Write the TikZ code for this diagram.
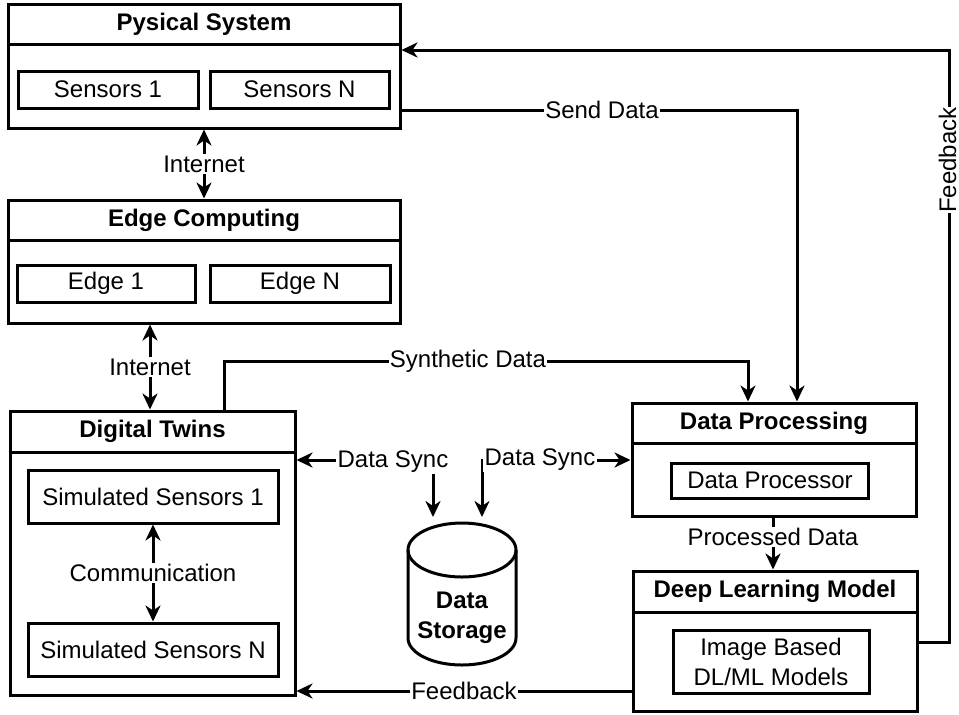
\documentclass[tikz,border=0pt]{standalone}
\usepackage{fontspec}
\setmainfont{Liberation Sans}
\usetikzlibrary{arrows.meta}

\tikzset{
  >={Stealth[length=8pt,width=7.5pt,inset=2.5pt]},
  panel/.style={draw, inner sep=0pt},
  unit/.style={draw, inner sep=0pt, align=center},
  title/.style={font=\fontsize{12}{15}\selectfont\bfseries},
  lbl/.style={fill=white, inner sep=0.6pt},
}

\begin{document}
\begin{tikzpicture}[x=0.5pt, y=-0.5pt, line width=1.5pt,
    font=\fontsize{12}{15}\selectfont]
    \useasboundingbox (0,0) rectangle (959,714);

    % physical system
    \node[panel, minimum width=196pt, minimum height=62pt] (phys) at (204,66) {};
    \draw (phys.west |- 0,44) -- (phys.east |- 0,44);
    \node[title] (physT) at (204,24) {Pysical System};
    \node[unit, minimum width=90pt, minimum height=18.5pt] (sens1) at (108,89.5) {Sensors 1};
    \node[unit, minimum width=89.5pt, minimum height=18.5pt] (sensN) at (299.5,89.5) {Sensors N};

    % edge computing
    \node[panel, minimum width=196pt, minimum height=61.5pt] (edge) at (204,261.5) {};
    \draw (edge.west |- 0,240) -- (edge.east |- 0,240);
    \node[title] (edgeT) at (204,220) {Edge Computing};
    \node[unit, minimum width=89pt, minimum height=18.5pt] (edge1) at (106,283.5) {Edge 1};
    \node[unit, minimum width=90pt, minimum height=18.5pt] (edgeN) at (300,283.5) {Edge N};

    % digital twins
    \node[panel, minimum width=142.5pt, minimum height=142pt] (dt) at (152.5,553) {};
    \draw (dt.west |- 0,452) -- (dt.east |- 0,452);
    \node[title] (dtT) at (152.5,431.5) {Digital Twins};
    \node[unit, minimum width=125pt, minimum height=26.5pt] (sim1) at (153,496.5) {Simulated Sensors 1};
    \node[unit, minimum width=125pt, minimum height=26.5pt] (simN) at (153,649.5) {Simulated Sensors N};

    % data processing
    \node[panel, minimum width=142pt, minimum height=56.5pt] (dp) at (774,459.5) {};
    \draw (dp.west |- 0,443) -- (dp.east |- 0,443);
    \node[title] (dpT) at (774,423) {Data Processing};
    \node[unit, minimum width=98.5pt, minimum height=17.5pt] (proc) at (770,480.5) {Data Processor};

    % deep learning model
    \node[panel, minimum width=142pt, minimum height=70pt] (dl) at (775,641) {};
    \draw (dl.west |- 0,612) -- (dl.east |- 0,612);
    \node[title] (dlT) at (775,591.5) {Deep Learning Model};
    \node[unit, minimum width=98pt, minimum height=31.5pt] (model) at (771,661.5) {Image Based\\DL/ML Models};

    % data storage
    \draw (462,550) ellipse [x radius=27pt, y radius=13.5pt];
    \draw (408,550) -- (408,638) arc[start angle=180, end angle=360, x radius=27pt, y radius=13.5pt] -- (516,550);
    \node[title, align=center] (storeT) at (462,618) {Data\\Storage};
    \coordinate (stA) at (433,517);
    \coordinate (stB) at (482,517);

    % links
    \draw[<->] (phys.south) -- (edge.north) node[lbl, midway] (net1) {Internet};
    \draw[<->] (edge.south -| 150,0) -- (dt.north -| 150,0) node[lbl, midway] (net2) {Internet};
    \draw[<->] (sim1.south) -- (simN.north) node[lbl, midway] (comm) {Communication};

    \draw[<->] (dt.east |- 0,460) -| (stA);
    \node[lbl] (sync1) at (393,462) {Data Sync};
    \draw[<->] (stB) |- (dp.west |- 0,460);
    \node[lbl] (sync2) at (540,460) {Data Sync};

    \draw[->] (phys.east |- 0,110) -| (dp.north -| 797,0);
    \node[lbl] (send) at (602,110) {Send Data};
    \draw[->] (dt.north -| 224,0) |- (748,361) -- (dp.north -| 748,0);
    \node[lbl] (synth) at (468,361) {Synthetic Data};
    \draw[->] (dp.south -| 773,0) -- (dl.north -| 773,0) node[lbl, pos=0.38] (procd) {Processed Data};

    \draw[->] (dl.west |- 0,691) -- (dt.east |- 0,691) node[lbl, midway] (fb1) {Feedback};
    \draw[->] (dl.east |- 0,642) -| (949,50) -- (phys.east |- 0,50);
    \node[lbl, rotate=90, anchor=base, inner sep=0pt, text depth=0pt] (fb2) at (956,160) {Feedback};
\end{tikzpicture}
\end{document}
